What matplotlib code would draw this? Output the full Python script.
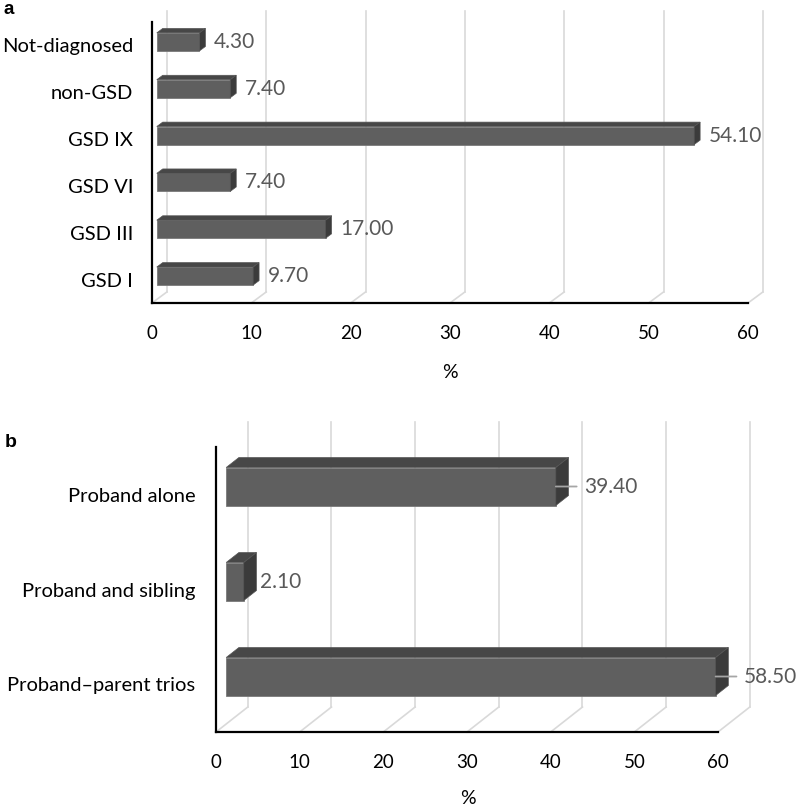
import matplotlib
matplotlib.use("Agg")
from matplotlib import pyplot as plt
from matplotlib.patches import Polygon, Rectangle

plt.rcParams["font.family"] = ["Lato", "DejaVu Sans"]

# panel a: diagnosis (bottom to top)
diag_labels = ["GSD I", "GSD III", "GSD VI", "GSD IX", "non-GSD", "Not-diagnosed"]
diag_pct = [9.70, 17.00, 7.40, 54.10, 7.40, 4.30]

# panel b: sequencing design (bottom to top)
design_labels = ["Proband\u2013parent trios", "Proband and sibling", "Proband alone"]
design_pct = [58.50, 2.10, 39.40]

x_ticks = [0, 10, 20, 30, 40, 50, 60]

W, H = 797, 808
FRONT = "#5f5f5f"
TOP = "#474747"
SIDE = "#3b3b3b"
GRID = "#d9d9d9"
VALCOL = "#595959"


def px_axes(fig, left, right, bottom, top):
    # axes box given in pixel coords (top-left origin)
    return fig.add_axes([left / W, (H - bottom) / H, (right - left) / W, (bottom - top) / H])


def draw_3d_bars(ax, labels, values, dx, dy, h, label_pad, leader=None, f1=0.32, f2=0.72):
    n = len(labels)
    ax.set_xlim(0, 60)
    ax.set_ylim(-0.5, n - 0.5)
    for s in ["top", "right"]:
        ax.spines[s].set_visible(False)
    for s in ["left", "bottom"]:
        ax.spines[s].set_color("black")
        ax.spines[s].set_linewidth(1.6)
        ax.spines[s].set_zorder(5)

    # back wall gridlines + floor depth lines
    for t in x_ticks:
        ax.plot([t + dx, t + dx], [-0.5 + dy, n - 0.5 + dy], color=GRID, lw=1.2,
                clip_on=False, zorder=1)
        ax.plot([t, t + dx], [-0.5, -0.5 + dy], color=GRID, lw=1.2, clip_on=False, zorder=1)

    ddx, ddy = (f2 - f1) * dx, (f2 - f1) * dy
    for i, v in enumerate(values):
        x0 = f1 * dx
        yc = i + f1 * dy
        yb, yt = yc - h / 2, yc + h / 2
        ax.add_patch(Rectangle((x0, yb), v, h, facecolor=FRONT, edgecolor="#7a7a7a",
                               lw=0.6, zorder=3, clip_on=False))
        ax.add_patch(Polygon([(x0, yt), (x0 + v, yt), (x0 + v + ddx, yt + ddy), (x0 + ddx, yt + ddy)],
                             closed=True, facecolor=TOP, edgecolor="#555555", lw=0.5,
                             zorder=3, clip_on=False))
        ax.add_patch(Polygon([(x0 + v, yb), (x0 + v, yt), (x0 + v + ddx, yt + ddy), (x0 + v + ddx, yb + ddy)],
                             closed=True, facecolor=SIDE, edgecolor="#555555", lw=0.5,
                             zorder=3, clip_on=False))
        if leader is not None and leader[i] > 0:
            ax.annotate("", xy=(x0 + v, yc), xytext=(leader[i], 0), textcoords="offset points",
                        arrowprops=dict(arrowstyle="-", color="#a6a6a6", lw=1.3,
                                        shrinkA=0, shrinkB=0), zorder=4)
        ax.annotate(f"{v:.2f}", xy=(x0 + v, yc), xytext=(label_pad[i], 0),
                    textcoords="offset points", ha="left", va="center",
                    fontsize=15, color=VALCOL, zorder=6)

    ax.set_xticks(x_ticks)
    ax.set_xticklabels([str(t) for t in x_ticks], fontsize=13.5)
    ax.set_yticks(range(n))
    ax.set_yticklabels(labels, fontsize=14.5)
    ax.tick_params(axis="x", length=0, pad=16)
    ax.tick_params(axis="y", length=0)
    ax.set_facecolor("none")


fig = plt.figure(figsize=(W / 100, H / 100), dpi=100)

ax_a = px_axes(fig, 152, 748, 303, 22)
draw_3d_bars(ax_a, diag_labels, diag_pct, dx=1.5, dy=0.236, h=0.385,
             label_pad=[10.5] * len(diag_pct))
ax_a.tick_params(axis="y", pad=13.5)

ax_b = px_axes(fig, 216, 718, 732, 447)
draw_3d_bars(ax_b, design_labels, design_pct, dx=3.8, dy=0.263, h=0.4,
             label_pad=[20, 11.5, 20.5], leader=[15, 0, 15])
ax_b.tick_params(axis="y", pad=15)

fig.text(3 / W, 1 - 9 / H, "a", fontsize=13.5, fontweight="bold", va="center", ha="left",
         family="Liberation Sans")
fig.text(5 / W, 1 - 442 / H, "b", fontsize=14, fontweight="bold", va="center", ha="left",
         family="Liberation Sans")
fig.text(450 / W, 1 - 372 / H, "%", fontsize=14, va="center", ha="center")
fig.text(468 / W, 1 - 798 / H, "%", fontsize=14, va="center", ha="center")

fig.savefig("out.png", dpi=100)
